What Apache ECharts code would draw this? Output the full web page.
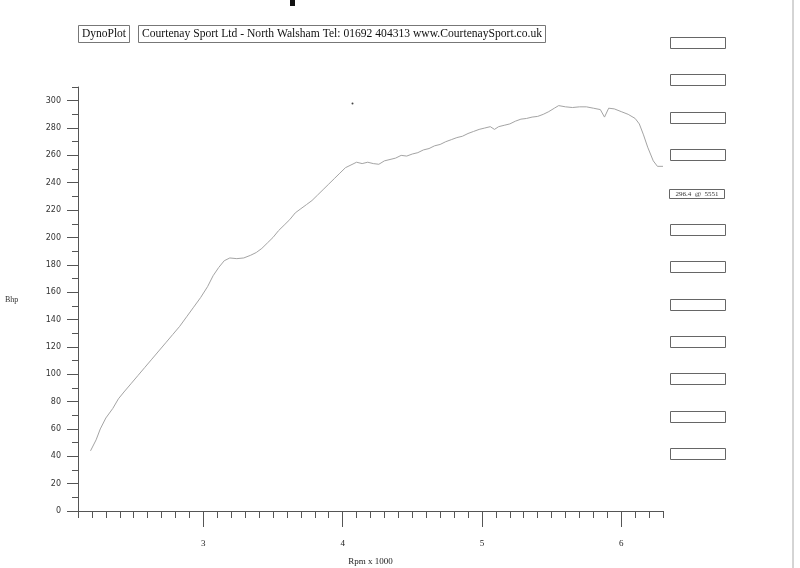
<!DOCTYPE html>
<html><head><meta charset="utf-8">
<script src="https://cdn.jsdelivr.net/npm/echarts@6/dist/echarts.min.js"></script>
<style>html,body{margin:0;padding:0;background:#fff}#c{width:800px;height:568px}</style>
</head><body><div id="c"></div>
<script>
// Data
const rpm = [2190,2230,2260,2300,2350,2390,2430,2480,2530,2580,2630,2680,2730,2780,2830,2880,2930,2980,3030,3070,3110,3150,3190,3240,3290,3340,3380,3420,3460,3500,3540,3580,3620,3660,3700,3740,3780,3820,3860,3900,3940,3980,4020,4060,4100,4140,4180,4220,4260,4300,4340,4380,4420,4460,4500,4540,4580,4620,4660,4700,4740,4780,4820,4860,4900,4940,4980,5020,5060,5090,5120,5160,5200,5240,5280,5320,5360,5400,5440,5480,5520,5551,5600,5650,5700,5750,5800,5850,5880,5910,5950,6000,6050,6100,6130,6160,6190,6230,6260,6300];
const bhp = [44,52,60,68,75,82,87,93,99,105,111,117,123,129,135,142,149,156,164,172,178,183,185,184.5,185,187,189,192,196,200,205,209,213,218,221,224,227,231,235,239,243,247,251,253,255,254,255,254,253.5,256,257,258,260,259.5,261,262,264,265,267,268,270,271.5,273,274,276,277.5,279,280,281,279,281,282,283,285,286.5,287,288,288.5,290,292,294.5,296.4,295.5,295,295.5,295.5,294.5,293.5,288,294.5,294,292,290,287,283,275,266,256,252,252];
const xMinorTicks = []; for (let v = 2100; v <= 6300; v += 100) xMinorTicks.push(v);
const xMajorTicks = [3000,4000,5000,6000];
const yMinorTicks = []; for (let v = 0; v <= 310; v += 10) yMinorTicks.push(v);
const yMajorTicks = []; for (let v = 0; v <= 300; v += 20) yMajorTicks.push(v);
const headerLeft = 'DynoPlot';
const headerRight = 'Courtenay Sport Ltd - North Walsham Tel: 01692 404313 www.CourtenaySport.co.uk';
const peakText = '296.4  @  5551';

const data = rpm.map((r, i) => [r, bhp[i]]);
const axisColor = '#555';
const serif = '"Liberation Serif","DejaVu Serif",serif';

const boxTops = [37,74,112,149,224,261,299,336,373,411,448];
const graphics = [];
// header
graphics.push({type:'rect', shape:{x:78.5,y:25.5,width:51,height:17}, style:{fill:'#fff',stroke:'#777',lineWidth:1}});
graphics.push({type:'text', x:104, y:34, style:{text:headerLeft, font:'11.5px '+serif, fill:'#111', align:'center', verticalAlign:'middle'}});
graphics.push({type:'rect', shape:{x:138.5,y:25.5,width:407,height:17}, style:{fill:'#fff',stroke:'#777',lineWidth:1}});
graphics.push({type:'text', x:342, y:34, style:{text:headerRight, font:'11.6px '+serif, fill:'#111', align:'center', verticalAlign:'middle'}});
// right boxes
boxTops.forEach(t => graphics.push({type:'rect', shape:{x:670.5,y:t+0.5,width:55,height:11}, style:{fill:'#fff',stroke:'#666',lineWidth:1}}));
graphics.push({type:'rect', shape:{x:669.5,y:189.5,width:55,height:9}, style:{fill:'#fff',stroke:'#666',lineWidth:1}});
graphics.push({type:'text', x:697, y:194.5, style:{text:peakText, font:'7px '+serif, fill:'#333', align:'center', verticalAlign:'middle'}});
// Bhp label
graphics.push({type:'text', x:5, y:300, style:{text:'Bhp', font:'8px '+serif, fill:'#333', verticalAlign:'middle'}});
// scan artifacts
graphics.push({type:'line', shape:{x1:793,y1:0,x2:793,y2:568}, style:{stroke:'#aaa',lineWidth:1}});
graphics.push({type:'rect', shape:{x:290,y:0,width:5,height:6}, style:{fill:'#111'}});
graphics.push({type:'circle', shape:{cx:352.5,cy:103.5,r:1}, style:{fill:'#444'}});

const chart = echarts.init(document.getElementById('c'), null, {renderer:'canvas'});
chart.setOption({
  animation:false,
  backgroundColor:'#fff',
  grid:{left:78, right:137, top:87, bottom:57, containLabel:false, outerBoundsMode:'none'},
  xAxis:[{
    type:'value', min:2100, max:6300,
    axisLine:{show:true, lineStyle:{color:axisColor, width:1}},
    axisTick:{show:true, customValues:xMinorTicks, length:7, lineStyle:{color:axisColor}},
    axisLabel:{customValues:xMajorTicks, formatter:v => String(v/1000), margin:28, fontSize:9, fontFamily:serif, color:'#222'},
    splitLine:{show:false},
    name:'Rpm x 1000', nameLocation:'middle', nameGap:46,
    nameTextStyle:{fontSize:9, fontFamily:serif, color:'#222'}
  },{
    type:'value', min:2100, max:6300, position:'bottom', offset:0,
    axisLine:{show:false},
    axisTick:{show:true, customValues:xMajorTicks, length:16, lineStyle:{color:axisColor}},
    axisLabel:{show:false}, splitLine:{show:false}
  }],
  yAxis:[{
    type:'value', min:0, max:310,
    axisLine:{show:true, lineStyle:{color:axisColor, width:1}},
    axisTick:{show:true, customValues:yMinorTicks, length:6, lineStyle:{color:axisColor}},
    axisLabel:{customValues:yMajorTicks, margin:17, fontSize:8, fontFamily:'"DejaVu Sans",sans-serif', color:'#333'},
    splitLine:{show:false}
  },{
    type:'value', min:0, max:310, position:'left', offset:0,
    axisLine:{show:false},
    axisTick:{show:true, customValues:yMajorTicks, length:11, lineStyle:{color:axisColor}},
    axisLabel:{show:false}, splitLine:{show:false}
  }],
  series:[{
    type:'line', data:data, xAxisIndex:0, yAxisIndex:0,
    showSymbol:false, smooth:false,
    lineStyle:{color:'#a4a4a4', width:1}
  }],
  graphic:graphics
});
</script></body></html>
